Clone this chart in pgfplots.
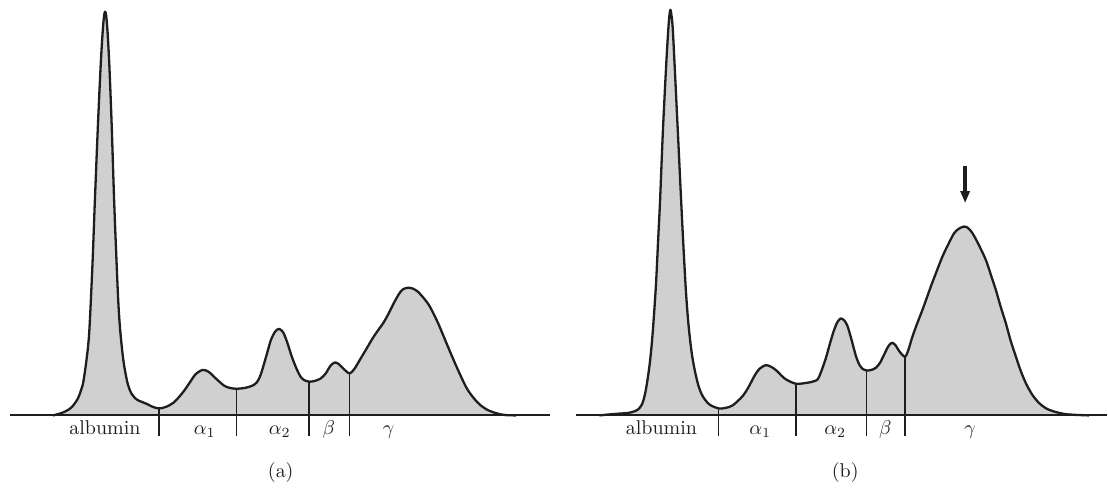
\documentclass[border=0pt]{standalone}
\usepackage{pgfplots}
\pgfplotsset{compat=1.18}
\usepackage{pgfplotstable}
\usetikzlibrary{arrows.meta}

\definecolor{fillgray}{RGB}{208,208,208}
\definecolor{ink}{RGB}{30,30,30}

% densitometer traces, x in px across each panel, y = height above baseline (px)
\pgfplotstableread{
x h
53 0
62 2.5
69 6
73.3 10
78 17
81 25
83.3 33
86.5 55
89.3 83
92.5 150
95 216
98 290
100.7 349
102.7 383
104.2 400
105.2 404
106.3 400
107.7 383
109.5 349
111.8 290
114.2 216
116.8 150
118.6 110
120.5 83
123.5 55
127.5 33
131.5 22
136.7 16
142 13.5
147 11.5
153 8.5
159.3 7
166 8.5
174 13
183 23
190 33
196 41.5
203 45.5
209 43.5
216 37
224 30
230 27.5
236.7 26.7
245 27.5
252 29.5
257 33
261 41
266.7 60
271 75
275.5 84
279.5 86.5
283.5 83
287.5 73
292 59
296.7 47
301 38.5
305 35
309.3 33.7
315 34.5
321 37
326 42
331 50
335.5 53
339.5 51
344 46.5
350 42
355 47
361 57
367 67
373.3 77.7
379 86
384 93
389 102
394 112
399 121
403 126
408 127.7
413 127
418 124
424 117.5
430 109.3
438.3 92.7
446.7 72.7
456.7 49.3
466.7 28
474 17.5
480 11
487 6
493.3 3.3
500 1.3
506.7 0.3
516.7 0
}\normal

\pgfplotstableread{
x h
46 0
56 1
66 1.8
76 2.7
84 5.5
88.5 11
91.5 21
94 35
96.7 55
99.3 83
102.5 130
104.7 175
106.7 216
109.5 285
112.7 349
114.8 385
116 400
117 406
118 401
119.3 388
121.3 349
124.5 283
127.7 216
130 170
132.5 125
135 92
138 65
141 47
145 30
149.3 19.3
156 11
165.3 7
172 7.5
179.3 10
189.3 19.3
195 28
201 39.3
206 46.5
212.7 50.3
218 48.5
222.7 45.3
228 40
232.7 36
242.7 31.7
254.3 32.7
260 34
264.3 36
268 44
272.7 57.7
277 73
281 86
284.5 94
287.7 97
291 95
294.3 89.3
298.5 75
302.7 59.3
306 51
309.3 46.7
313.3 45
318 45.5
322.7 47.7
327 53
331 61
335 69
338.7 72.7
342.5 70
346 64.3
351.7 58.7
355 65
359.3 79
364 92
369.3 105.7
377.7 129
383 143
389.3 159
395 171
401 182.4
406 187
411 189
415 187.5
419.3 182.4
425 172
432.7 155.7
437.5 141.5
442.7 125.7
447.5 109
452.7 92.4
457.5 75
462.7 59
467.5 45
472.7 32.4
479 21
486 12.4
494 6.5
502.7 3.4
511 1.5
519.3 0.7
536 0
}\myeloma

\pgfplotsset{
  panel/.style={
    anchor=south west, scale only axis,
    width=277pt, height=242.5pt,
    xmin=0, xmax=554, ymin=-69.3, ymax=415.7,
    hide axis, clip=false
  },
}
\tikzset{
  trace/.style={smooth, tension=0.5, draw=ink, line width=1.15pt, fill=fillgray, line join=round},
  sep/.style={draw=ink, line width=0.7pt},
  base/.style={draw=ink, line width=1pt},
  lab/.style={anchor=base, text=ink, font=\fontsize{10}{12}\selectfont},
}

\begin{document}
\begin{tikzpicture}
\begin{axis}[panel, at={(0,0)}]
  \path (axis cs:0,-69.3) rectangle (axis cs:554,415.7);
  \addplot[trace] table[x=x, y=h] {\normal};
  \addplot[base] coordinates {(10,0) (550,0)};
  \addplot[sep] coordinates {(159.3,7) (159.3,-21)};
  \addplot[sep] coordinates {(236.7,26.7) (236.7,-21)};
  \addplot[sep] coordinates {(309.3,33.7) (309.3,-21)};
  \addplot[sep] coordinates {(350,42) (350,-21)};
  \node[lab] at (axis cs:105,-19.3) {albumin};
  \node[lab] at (axis cs:205,-19.3) {$\alpha_1$};
  \node[lab] at (axis cs:280,-19.3) {$\alpha_2$};
  \node[lab] at (axis cs:329,-19.3) {$\beta$};
  \node[lab] at (axis cs:389,-19.3) {$\gamma$};
  \node[lab] at (axis cs:281,-62) {(a)};
\end{axis}
\begin{axis}[panel, at={(277pt,0)}]
  \path (axis cs:0,-69.3) rectangle (axis cs:554,415.7);
  \addplot[trace] table[x=x, y=h] {\myeloma};
  \addplot[base] coordinates {(23,0) (554,0)};
  \addplot[sep] coordinates {(165.3,7) (165.3,-21)};
  \addplot[sep] coordinates {(242.7,31.7) (242.7,-21)};
  \addplot[sep] coordinates {(313.3,45) (313.3,-21)};
  \addplot[sep] coordinates {(351.7,58.7) (351.7,-21)};
  \addplot[draw=ink, line width=1.75pt, -{Triangle[length=6pt, width=4.5pt]}]
    coordinates {(412,250) (412,212.5)};
  \node[lab] at (axis cs:108,-19.3) {albumin};
  \node[lab] at (axis cs:207,-19.3) {$\alpha_1$};
  \node[lab] at (axis cs:282,-19.3) {$\alpha_2$};
  \node[lab] at (axis cs:332,-19.3) {$\beta$};
  \node[lab] at (axis cs:417,-19.3) {$\gamma$};
  \node[lab] at (axis cs:292,-62) {(b)};
\end{axis}
\end{tikzpicture}
\end{document}
